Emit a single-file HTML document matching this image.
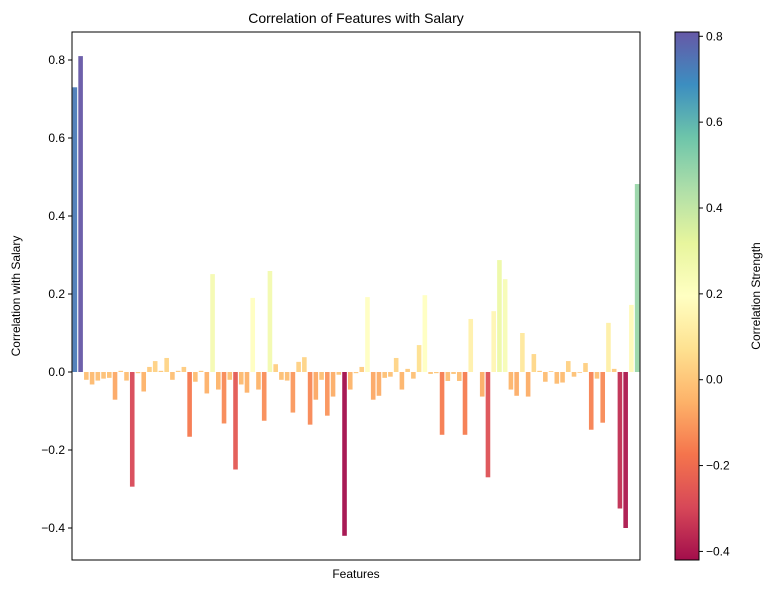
<!DOCTYPE html>
<html><head><meta charset="utf-8"><style>
html,body{margin:0;padding:0;background:#fff;}
svg{display:block;font-family:"Liberation Sans","DejaVu Sans",sans-serif;}
</style></head><body>
<svg id="chart" width="773" height="590" viewBox="0 0 773 590">
<defs><linearGradient id="cbgrad" x1="0" y1="1" x2="0" y2="0"></linearGradient></defs>
<text x="356" y="23" font-size="14" text-anchor="middle" fill="#000">Correlation of Features with Salary</text>
<g id="bars"></g>
<g id="yaxis"></g>
<rect x="72" y="32" width="568" height="528" fill="none" stroke="#000" stroke-width="1"/>
<text x="356" y="578" font-size="12" text-anchor="middle">Features</text>
<text transform="translate(20,296) rotate(-90)" font-size="12" text-anchor="middle">Correlation with Salary</text>
<rect x="675" y="32" width="24" height="528" fill="url(#cbgrad)" stroke="#000" stroke-width="1"/>
<g id="cbaxis"></g>
<text transform="translate(760,296) rotate(-90)" font-size="12" text-anchor="middle">Correlation Strength</text>
</svg>
<script>
const values = [0.73,0.81,-0.02,-0.032,-0.022,-0.017,-0.015,-0.071,0.003,-0.022,
-0.294,-0.003,-0.05,0.013,0.028,0.003,0.036,-0.02,0.003,0.013,
-0.166,-0.025,0.003,-0.055,0.251,-0.045,-0.132,-0.02,-0.25,-0.032,
-0.053,0.19,-0.045,-0.125,0.259,0.02,-0.02,-0.022,-0.104,0.026,
0.038,-0.135,-0.071,-0.02,-0.112,-0.063,-0.007,-0.42,-0.045,-0.003,
0.013,0.192,-0.071,-0.061,-0.015,-0.012,0.036,-0.045,0.008,-0.017,
0.069,0.197,-0.005,-0.003,-0.161,-0.023,-0.005,-0.023,-0.161,0.136,
0.0,-0.063,-0.27,0.156,0.287,0.238,-0.045,-0.061,0.1,-0.063,
0.046,0.003,-0.025,0.002,-0.03,-0.027,0.028,-0.012,-0.002,0.023,
-0.148,-0.017,-0.13,0.126,0.008,-0.35,-0.40,0.172,0.482];
const yTicks = [-0.4,-0.2,0.0,0.2,0.4,0.6,0.8];
const cbTicks = [-0.4,-0.2,0.0,0.2,0.4,0.6,0.8];
const NS="http://www.w3.org/2000/svg";
const spectral=["#9e0142","#d53e4f","#f46d43","#fdae61","#fee08b","#ffffbf","#e6f598","#abdda4","#66c2a5","#3288bd","#5e4fa2"];
function hex(c){return [1,3,5].map(i=>parseInt(c.substr(i,2),16));}
function cmap(t){t=Math.max(0,Math.min(1,t));const p=t*10,i=Math.min(9,Math.floor(p)),f=p-i;const a=hex(spectral[i]),b=hex(spectral[i+1]);return "rgb("+a.map((v,k)=>Math.round(v+(b[k]-v)*f)).join(",")+")";}
const vmin=Math.min(...values), vmax=Math.max(...values);
const plotL=72,plotR=640,plotT=32,plotB=560;
const yMax=0.8+28/390, yMin=-188/390;
function yScale(v){return plotT+(yMax-v)/(yMax-yMin)*(plotB-plotT);}
function xScale(i){return plotL+(i+0.5)/values.length*(plotR-plotL);}
const bw=0.8*(plotR-plotL)/values.length;
const bars=document.getElementById("bars");
values.forEach((v,i)=>{
 const r=document.createElementNS(NS,"rect");
 const y0=yScale(0),y1=yScale(v);
 r.setAttribute("x",xScale(i)-bw/2);r.setAttribute("width",bw);
 r.setAttribute("y",Math.min(y0,y1));r.setAttribute("height",Math.abs(y1-y0));
 r.setAttribute("fill",cmap((v-vmin)/(vmax-vmin)));r.setAttribute("fill-opacity","0.9");
 
 
 bars.appendChild(r);
});
const ya=document.getElementById("yaxis");
yTicks.forEach(t=>{
 const y=yScale(t);
 const l=document.createElementNS(NS,"line");
 l.setAttribute("x1",plotL-4);l.setAttribute("x2",plotL);l.setAttribute("y1",y);l.setAttribute("y2",y);l.setAttribute("stroke","#000");
 
 
 ya.appendChild(l);
 const tx=document.createElementNS(NS,"text");
 tx.setAttribute("x",plotL-7);tx.setAttribute("y",y+4);tx.setAttribute("text-anchor","end");tx.setAttribute("font-size","12");
 tx.textContent=(t<0?"\u2212":"")+Math.abs(t).toFixed(1);
 
 
 ya.appendChild(tx);
});
const grad=document.getElementById("cbgrad");
for(let k=0;k<=20;k++){const s=document.createElementNS(NS,"stop");s.setAttribute("offset",k/20);s.setAttribute("stop-color",cmap(k/20));s.setAttribute("stop-opacity","0.95");grad.appendChild(s);}
const cb=document.getElementById("cbaxis");
function cbScale(v){return plotB-(v-vmin)/(vmax-vmin)*(plotB-plotT);}
cbTicks.forEach(t=>{
 const y=cbScale(t);
 const l=document.createElementNS(NS,"line");
 l.setAttribute("x1",699);l.setAttribute("x2",703);l.setAttribute("y1",y);l.setAttribute("y2",y);l.setAttribute("stroke","#000");
 
 
 cb.appendChild(l);
 const tx=document.createElementNS(NS,"text");
 tx.setAttribute("x",706);tx.setAttribute("y",y+4);tx.setAttribute("font-size","12");
 tx.textContent=(t<0?"\u2212":"")+Math.abs(t).toFixed(1);
 
 
 cb.appendChild(tx);
});
</script>
</body></html>
